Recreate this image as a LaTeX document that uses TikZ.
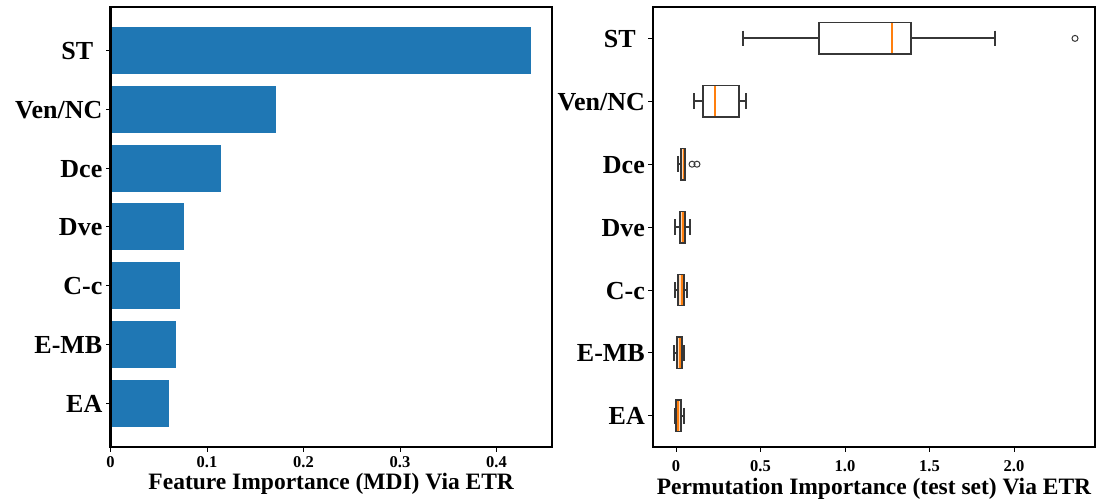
\documentclass[tikz,border=0pt]{standalone}
\usepackage{fontspec}
\setmainfont{Liberation Serif}
\usetikzlibrary{positioning}
\definecolor{mplblue}{HTML}{1F77B4}
\definecolor{mplorange}{HTML}{FF7F0E}
\definecolor{boxgray}{RGB}{55,55,55}

% one box of the box plot: [box options]{row}{low}{q1}{median}{q3}{high}
\newcommand{\boxrow}[7][fill=white]{%
  \draw[whisker] (#3,#2) -- (#4,#2);
  \draw[whisker] (#6,#2) -- (#7,#2);
  \draw[whisker] (#3,#2-0.125) -- (#3,#2+0.125);
  \draw[whisker] (#7,#2-0.125) -- (#7,#2+0.125);
  \fill[#1] (#4,#2-0.25) rectangle (#6,#2+0.25);
  \draw[median] (#5,#2-0.25) -- (#5,#2+0.25);
  \draw[boxline] (#4,#2-0.25) rectangle (#6,#2+0.25);
}

\begin{document}
\begin{tikzpicture}[
    x=1pt, y=-1pt,
    bar/.style={fill=mplblue},
    frame/.style={draw=black, line width=2.2pt},
    tickmark/.style={black, line width=0.9pt},
    rowlabel/.style={font=\fontsize{26}{28}\selectfont\bfseries, anchor=base east, inner sep=0pt, yshift=-9pt, xshift=-8pt},
    ticklabel/.style={font=\fontsize{16.5}{18}\selectfont\bfseries, anchor=north, inner sep=0pt},
    axislabel/.style={font=\fontsize{23.5}{26}\selectfont\bfseries, anchor=base, inner sep=0pt},
    whisker/.style={draw=boxgray, line width=1.8pt},
    boxline/.style={draw=boxgray, line width=1.5pt},
    median/.style={draw=mplorange, line width=1.5pt},
    smallbox/.style={fill=mplorange!30},
    flier/.style={draw=boxgray, line width=1pt},
]

\fill[white] (0,0) rectangle (1101,500);
\useasboundingbox (0,0) rectangle (1101,500);

% Left panel: MDI bars
\begin{scope}[shift={(110.5,50.5)}, x=965pt, y=-58.8pt]
  \fill[bar] (0,-0.4) rectangle (0.4358,0.4);
  \fill[bar] (0,0.6) rectangle (0.1715,1.4);
  \fill[bar] (0,1.6) rectangle (0.1145,2.4);
  \fill[bar] (0,2.6) rectangle (0.0762,3.4);
  \fill[bar] (0,3.6) rectangle (0.0720,4.4);
  \fill[bar] (0,4.6) rectangle (0.0679,5.4);
  \fill[bar] (0,5.6) rectangle (0.0606,6.4);

  \draw[frame] (0,-0.74) rectangle (0.4575,6.74);
  \coordinate (lbot) at (0.22875,6.74);

  % Row labels
  \node[rowlabel] (lst) at (0,0) {ST\rule{0.35em}{0pt}};
  \node[rowlabel] (lven) at (0,1) {Ven/NC};
  \node[rowlabel] (ldce) at (0,2) {Dce};
  \node[rowlabel] (ldve) at (0,3) {Dve};
  \node[rowlabel] (lcc) at (0,4) {C-c};
  \node[rowlabel] (lemb) at (0,5) {E-MB};
  \node[rowlabel] (lea) at (0,6) {EA};
  \draw[tickmark] (0,0) -- ++(-5pt,0);
  \draw[tickmark] (0,1) -- ++(-5pt,0);
  \draw[tickmark] (0,2) -- ++(-5pt,0);
  \draw[tickmark] (0,3) -- ++(-5pt,0);
  \draw[tickmark] (0,4) -- ++(-5pt,0);
  \draw[tickmark] (0,5) -- ++(-5pt,0);
  \draw[tickmark] (0,6) -- ++(-5pt,0);

  % x ticks
  \draw[tickmark] (0,6.74) -- ++(0,-5pt);
  \draw[tickmark] (0.1,6.74) -- ++(0,-5pt);
  \draw[tickmark] (0.2,6.74) -- ++(0,-5pt);
  \draw[tickmark] (0.3,6.74) -- ++(0,-5pt);
  \draw[tickmark] (0.4,6.74) -- ++(0,-5pt);
  \node[ticklabel, yshift=-10pt] (lx0) at (0,6.74) {0};
  \node[ticklabel, yshift=-10pt] (lx1) at (0.1,6.74) {0.1};
  \node[ticklabel, yshift=-10pt] (lx2) at (0.2,6.74) {0.2};
  \node[ticklabel, yshift=-10pt] (lx3) at (0.3,6.74) {0.3};
  \node[ticklabel, yshift=-10pt] (lx4) at (0.4,6.74) {0.4};
\end{scope}

\node[axislabel, yshift=-43pt] (lxlabel) at (lbot) {Feature Importance (MDI) Via ETR};

% Right panel: permutation box plot
\begin{scope}[shift={(676,38.4)}, x=169pt, y=-62.9pt]
  \boxrow{0}{0.396}{0.846}{1.278}{1.391}{1.888}
  \boxrow{1}{0.107}{0.160}{0.231}{0.373}{0.414}
  \boxrow[smallbox]{2}{0.012}{0.030}{0.047}{0.053}{0.053}
  \boxrow[smallbox]{3}{-0.006}{0.024}{0.041}{0.053}{0.083}
  \boxrow[smallbox]{4}{-0.006}{0.012}{0.036}{0.047}{0.065}
  \boxrow[smallbox]{5}{-0.012}{0.006}{0.024}{0.036}{0.047}
  \boxrow[smallbox]{6}{-0.006}{0.000}{0.012}{0.030}{0.047}

  % Outliers
  \draw[flier] (2.361,0) circle (3pt);
  \draw[flier] (0.095,2) circle (3pt);
  \draw[flier] (0.124,2) circle (3pt);

  \draw[frame] (-0.136,-0.5) rectangle (2.479,6.5);
  \coordinate (rbot) at (1.1715,6.5);

  % Row labels
  \node[rowlabel] (rst) at (-0.136,0) {ST\rule{0.35em}{0pt}};
  \node[rowlabel] (rven) at (-0.136,1) {Ven/NC};
  \node[rowlabel] (rdce) at (-0.136,2) {Dce};
  \node[rowlabel] (rdve) at (-0.136,3) {Dve};
  \node[rowlabel] (rcc) at (-0.136,4) {C-c};
  \node[rowlabel] (remb) at (-0.136,5) {E-MB};
  \node[rowlabel] (rea) at (-0.136,6) {EA};
  \draw[tickmark] (-0.136,0) -- ++(-5pt,0);
  \draw[tickmark] (-0.136,1) -- ++(-5pt,0);
  \draw[tickmark] (-0.136,2) -- ++(-5pt,0);
  \draw[tickmark] (-0.136,3) -- ++(-5pt,0);
  \draw[tickmark] (-0.136,4) -- ++(-5pt,0);
  \draw[tickmark] (-0.136,5) -- ++(-5pt,0);
  \draw[tickmark] (-0.136,6) -- ++(-5pt,0);

  % x ticks
  \draw[tickmark] (0,6.5) -- ++(0,-5pt);
  \draw[tickmark] (0.5,6.5) -- ++(0,-5pt);
  \draw[tickmark] (1,6.5) -- ++(0,-5pt);
  \draw[tickmark] (1.5,6.5) -- ++(0,-5pt);
  \draw[tickmark] (2,6.5) -- ++(0,-5pt);
  \node[ticklabel, yshift=-13pt] (rx0) at (0,6.5) {0};
  \node[ticklabel, yshift=-13pt] (rx1) at (0.5,6.5) {0.5};
  \node[ticklabel, yshift=-13pt] (rx2) at (1,6.5) {1.0};
  \node[ticklabel, yshift=-13pt] (rx3) at (1.5,6.5) {1.5};
  \node[ticklabel, yshift=-13pt] (rx4) at (2,6.5) {2.0};
\end{scope}

\node[axislabel, yshift=-47pt] (rxlabel) at (rbot) {Permutation Importance (test set) Via ETR};

\end{tikzpicture}
\end{document}
